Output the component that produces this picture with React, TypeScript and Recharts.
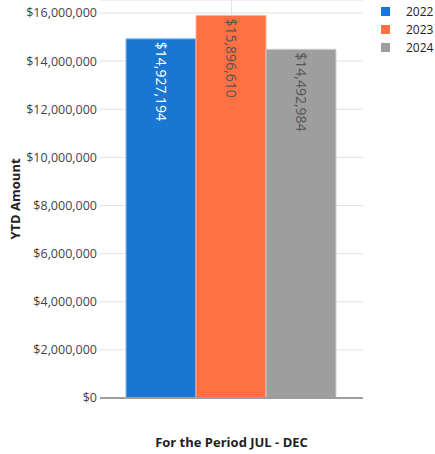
import React from "react";
import {
  BarChart,
  Bar,
  XAxis,
  YAxis,
  CartesianGrid,
  LabelList,
} from "recharts";

// Chart values
const categories = ["JUL - DEC"];
const seriesKeys = ["2022", "2023", "2024"];
const seriesValues = [14927194, 15896610, 14492984];
const seriesColors = ["#1976d2", "#ff7043", "#9e9e9e"];
const seriesStrokes = ["#8db9e6", "#ffb29b", "#cfcfcf"];
const labelColors = ["#ffffff", "#555555", "#555555"];
const yTicks = [0, 2000000, 4000000, 6000000, 8000000, 10000000, 12000000, 14000000, 16000000];

const FONT = "'Open Sans', sans-serif";

const chartData = categories.map((name) => {
  const row: { [key: string]: string | number } = { name };
  seriesKeys.forEach((key, i) => {
    row[key] = seriesValues[i];
  });
  return row;
});

const money = (v: number) => "$" + Number(v).toLocaleString("en-US");

// Rotated value label near the top of each bar
const makeBarLabel = (color: string) => (props: any) => {
  const { x, y, width, value } = props;
  const cx = x + width / 2;
  const ty = y + 3;
  return (
    <text
      x={cx}
      y={ty}
      transform={`rotate(90, ${cx}, ${ty})`}
      textAnchor="start"
      dominantBaseline="central"
      fill={color}
      fontSize={14}
      fontFamily={FONT}
    >
      {money(value)}
    </text>
  );
};

const YTitle = ({ viewBox }: any) => {
  const cy = viewBox.y + viewBox.height / 2;
  return (
    <text
      x={15}
      y={cy}
      transform={`rotate(-90, 15, ${cy})`}
      textAnchor="middle"
      dominantBaseline="central"
      fontSize={13}
      fontWeight="bold"
      fontFamily={FONT}
      fill="#222"
    >
      YTD Amount
    </text>
  );
};

const XTitle = ({ viewBox }: any) => (
  <text
    x={viewBox.x + viewBox.width / 2}
    y={442}
    textAnchor="middle"
    dominantBaseline="central"
    fontSize={13}
    fontWeight="bold"
    fontFamily={FONT}
    fill="#222"
  >
    For the Period JUL - DEC
  </text>
);

// legend sits to the right of the plot
const ChartLegend = () => (
  <div
    style={{
      position: "absolute",
      left: 381,
      top: 2,
      fontFamily: FONT,
      fontSize: 12,
      color: "#222",
      whiteSpace: "nowrap",
    }}
  >
    {seriesKeys.map((key, i) => (
      <div key={key} style={{ display: "flex", alignItems: "center", height: 18 }}>
        <span
          style={{
            display: "inline-block",
            width: 9,
            height: 9,
            background: seriesColors[i],
            marginRight: 16,
          }}
        />
        <span>{key}</span>
      </div>
    ))}
  </div>
);

// one vertical gridline through the middle of the single category
const centerLine = ({ offset }: any) => [offset.left + offset.width / 2];

export default function App() {
  return (
    <div style={{ position: "absolute", left: 0, top: 0, width: 435, height: 454, background: "#fff" }}>
      <BarChart
        width={435}
        height={454}
        data={chartData}
        margin={{ top: 0, right: 72, bottom: 0, left: 0 }}
        barCategoryGap={26}
        barGap={0}
      >
        <CartesianGrid stroke="#e2e2e2" verticalCoordinatesGenerator={centerLine} />
        <XAxis
          dataKey="name"
          height={56}
          tick={false}
          tickLine={false}
          axisLine={{ stroke: "#9e9e9e", strokeWidth: 2 }}
          label={<XTitle />}
        />
        <YAxis
          width={100}
          domain={[0, 16540000]}
          ticks={yTicks}
          tickFormatter={money}
          tickLine={false}
          axisLine={false}
          tickSize={0}
          tickMargin={3}
          tick={{ fill: "#444", fontSize: 12.5, fontFamily: FONT }}
          allowDataOverflow
          label={<YTitle />}
        />
        {seriesKeys.map((key, i) => (
          <Bar
            key={key}
            dataKey={key}
            fill={seriesColors[i]}
            stroke={seriesStrokes[i]}
            strokeWidth={1}
            isAnimationActive={false}
          >
            <LabelList dataKey={key} content={makeBarLabel(labelColors[i])} />
          </Bar>
        ))}
      </BarChart>
      <ChartLegend />
    </div>
  );
}
